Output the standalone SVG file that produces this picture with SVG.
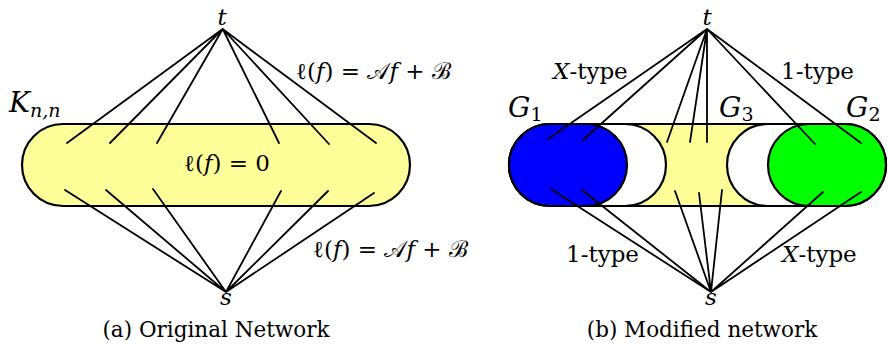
<svg xmlns="http://www.w3.org/2000/svg" width="888" height="347" viewBox="0 0 888 347">
<style>
.pill{stroke:#000;stroke-width:2.2}
.y{fill:#ffff99}
.w{fill:#fff}
.b{fill:#0000ff}
.g{fill:#00ff00}
.e{stroke:#000;stroke-width:1.8;fill:none;stroke-linecap:round}
text{font-family:'DejaVu Serif',serif;fill:#000}
.m{font-style:italic}
.lbl{font-size:23px}
.big{font-size:28px}
.sub{font-size:19px}
.cap{font-size:21.5px}
</style>
<rect width="888" height="347" fill="#fff"/>
<!-- (a) -->
<g id="Knn">
<rect class="pill y" x="22" y="124" width="388" height="82" rx="41" ry="41"/>
<text class="lbl" x="227" y="171" text-anchor="middle">ℓ(<tspan class="m">f</tspan>) = 0</text>
<text x="9" y="112"><tspan class="big m">K</tspan><tspan class="sub m" dy="5">n,n</tspan></text>
</g>
<g id="ta"><text class="lbl m" x="222" y="25" text-anchor="middle">t</text></g>
<g id="sa"><text class="lbl m" x="226" y="305" text-anchor="middle">s</text></g>
<g id="connectors-a">
<path class="e" d="M222.7 29L67 143M222.7 29L110 143M222.7 29L157 143M222.7 29L279 143M222.7 29L329 144M222.7 29L376 143"/>
<path class="e" d="M226 292L65 190M226 292L106 190M226 292L153 189M226 292L281 191M226 292L328 191M226 292L374 193"/>
</g>
<text class="lbl" x="296" y="79">ℓ(<tspan class="m">f</tspan>) = 𝒜<tspan class="m">f</tspan> + ℬ</text>
<text class="lbl" x="313" y="257">ℓ(<tspan class="m">f</tspan>) = 𝒜<tspan class="m">f</tspan> + ℬ</text>
<text class="cap" x="216" y="337" text-anchor="middle">(a) Original Network</text>
<!-- (b) -->
<g id="G3">
<rect class="pill y" x="509" y="124" width="377" height="82" rx="41" ry="41"/>
<rect class="pill w" x="509" y="124" width="157" height="82" rx="41" ry="41"/>
<rect class="pill w" x="727" y="124" width="159" height="82" rx="41" ry="41"/>
<text x="719" y="117"><tspan class="big m">G</tspan><tspan class="sub" dy="4">3</tspan></text>
</g>
<g id="G1">
<rect class="pill b" x="509" y="124" width="118" height="82" rx="41" ry="41"/>
<text x="508" y="117"><tspan class="big m">G</tspan><tspan class="sub" dy="4">1</tspan></text>
</g>
<g id="G2">
<rect class="pill g" x="768" y="124" width="118" height="82" rx="41" ry="41"/>
<text x="846" y="117"><tspan class="big m">G</tspan><tspan class="sub" dy="4">2</tspan></text>
</g>
<g id="tb"><text class="lbl m" x="707" y="25" text-anchor="middle">t</text></g>
<g id="sb"><text class="lbl m" x="711" y="305" text-anchor="middle">s</text></g>
<g id="connectors-b">
<path class="e" d="M707 29L548 139M707 29L583 140M707 29L667 142M707 29L690 142M707 29L707 142M707 29L815 144M707 29L861 143"/>
<path class="e" d="M711 292L551 189M711 292L582 190M711 292L675 191M711 292L699 193M711 292L722 190M711 292L823 192M711 292L861 192"/>
</g>
<text class="lbl" x="553" y="79"><tspan class="m">X</tspan>-type</text>
<text class="lbl" x="781" y="79">1-type</text>
<text class="lbl" x="566" y="262">1-type</text>
<text class="lbl" x="782" y="262"><tspan class="m">X</tspan>-type</text>
<text class="cap" x="702" y="337" text-anchor="middle">(b) Modified network</text>
</svg>
